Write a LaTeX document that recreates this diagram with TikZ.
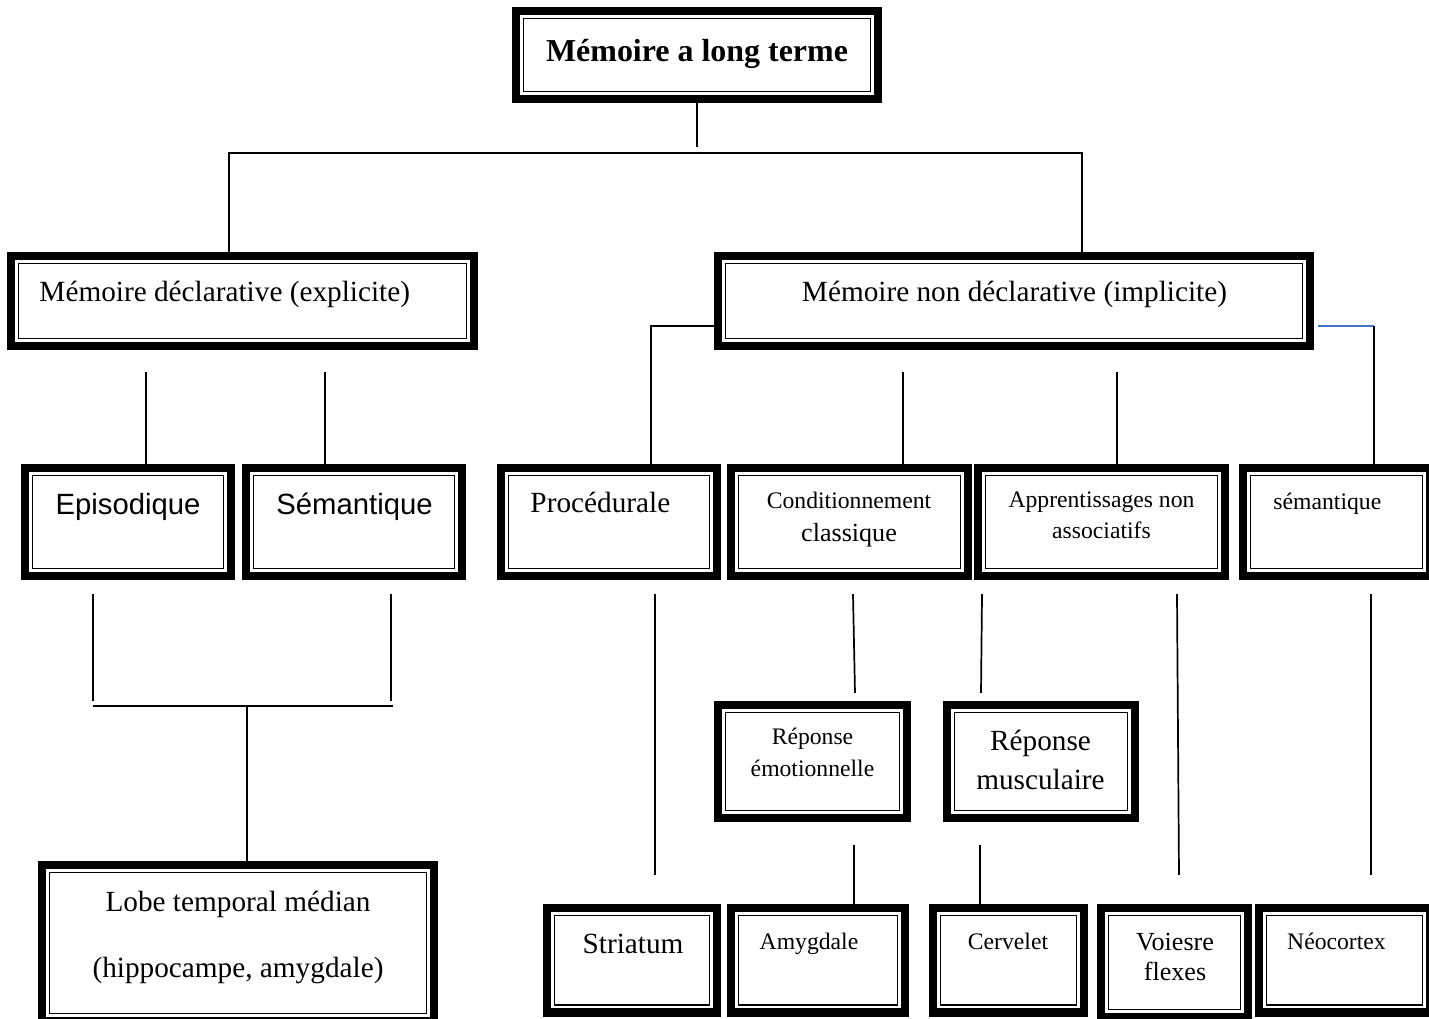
\documentclass[tikz,border=0pt]{standalone}
\usepackage{fontspec}
\setmainfont{Liberation Serif}
\newfontfamily\arial{Liberation Sans}
\usetikzlibrary{calc}
\definecolor{bleu}{RGB}{68,114,196}

\begin{document}
\begin{tikzpicture}[x=0.41pt, y=-0.41pt,
    cadre/.style 2 args={draw, line width=3.3pt, inner sep=0pt,
        minimum width=#1*0.41pt, minimum height=#2*0.41pt,
        path picture={\draw[line width=0.7pt]
            ([shift={(3.1pt,-3.1pt)}]path picture bounding box.north west) rectangle
            ([shift={(-3.1pt,3.1pt)}]path picture bounding box.south east);}},
    lien/.style={line width=0.7pt},
    lienbleu/.style={line width=0.7pt, draw=bleu},
    txt/.style={inner sep=0pt, anchor=base, font=\fontsize{12}{14}\selectfont},
    petit/.style={txt, font=\fontsize{9.7}{13}\selectfont}]

    % Fix the page to the size of the original figure
    \useasboundingbox (0,0) rectangle (1429,1019);

    % Top of the tree
    \node[cadre={362}{88}] (mlt) at (697,55) {};

    % The two main branches
    \node[cadre={463}{90}] (decl) at (242.5,301) {};
    \node[cadre={592}{90}] (nondecl) at (1014,301) {};

    % Third row
    \node[cadre={206}{108}] (epis) at (128,522) {};
    \node[cadre={216}{108}] (sema) at (354,522) {};
    \node[cadre={216}{108}] (proc) at (609,522) {};
    \node[cadre={237}{108}] (cond) at (849.5,522) {};
    \node[cadre={247}{108}] (appr) at (1101.5,522) {};
    \node[cadre={187}{108}] (semb) at (1336.5,522) {};

    % The two responses of classical conditioning
    \node[cadre={189}{113}] (emo) at (812.5,761.5) {};
    \node[cadre={188}{113}] (musc) at (1041,761.5) {};

    % Brain structures at the bottom
    \node[cadre={392}{156}] (lobe) at (238,943) {};
    \node[cadre={170}{104.5}] (stri) at (632,960.25) {};
    \node[cadre={174}{104.5}] (amyg) at (818,960.25) {};
    \node[cadre={151}{104.5}] (cerv) at (1008.5,960.25) {};
    \node[cadre={147}{109}] (voies) at (1174.5,962.5) {};
    \node[cadre={171}{104.5}] (neo) at (1344.5,960.25) {};

    % Texts of the boxes
    \node[txt, font=\bfseries\fontsize{13.1}{15}\selectfont] (tmlt) at (697,62) {Mémoire a long terme};
    \node[txt, anchor=base west] (tdecl) at (39,302) {Mémoire déclarative (explicite)};
    \node[txt] (tnondecl) at (1014.5,302) {Mémoire non déclarative (implicite)};
    \node[txt, font=\arial\fontsize{12}{14}\selectfont] (tepis) at (128,515) {Episodique};
    \node[txt, font=\arial\fontsize{12}{14}\selectfont] (tsema) at (354.5,515) {Sémantique};
    \node[txt, anchor=base west] (tproc) at (530,513) {Procédurale};
    \node[petit, font=\fontsize{9.7}{13.5}\selectfont] (tcond) at (849,509)
        {\begin{tabular}[t]{@{}c@{}}Conditionnement\\{\fontsize{10.7}{13.5}\selectfont classique}\end{tabular}};
    \node[petit, font=\fontsize{9.7}{12.7}\selectfont] (tappr) at (1101.5,508)
        {\begin{tabular}[t]{@{}c@{}}Apprentissages non\\associatifs\end{tabular}};
    \node[petit, anchor=base west] (tsemb) at (1273,510) {sémantique};
    \node[txt, font=\fontsize{12}{27}\selectfont] (tlobe) at (238,912)
        {\begin{tabular}[t]{@{}c@{}}Lobe temporal médian\\(hippocampe, amygdale)\end{tabular}};
    \node[petit, font=\fontsize{9.7}{13.1}\selectfont] (temo) at (812.5,745)
        {\begin{tabular}[t]{@{}c@{}}Réponse\\émotionnelle\end{tabular}};
    \node[txt, font=\fontsize{12}{15.6}\selectfont] (tmusc) at (1040.5,751)
        {\begin{tabular}[t]{@{}c@{}}Réponse\\musculaire\end{tabular}};
    \node[txt] (tstri) at (633,954) {Striatum};
    \node[petit] (tamyg) at (809,950) {Amygdale};
    \node[petit] (tcerv) at (1008,950) {Cervelet};
    \node[txt, font=\fontsize{10.7}{12.3}\selectfont] (tvoies) at (1175,951)
        {\begin{tabular}[t]{@{}c@{}}Voiesre\\flexes\end{tabular}};
    \node[petit] (tneo) at (1336.5,950) {Néocortex};

    % Links from the top box to the two branches
    \draw[lien] (mlt.south) -- ++(0,44);
    \draw[lien] ($(decl.north)+(-13.5,0)$) -- ++(0,-99) -| ($(nondecl.north)+(68,0)$);

    % Links under the declarative memory
    \draw[lien] ($(epis.north)+(18,-92)$) -- ($(epis.north)+(18,0)$);
    \draw[lien] ($(sema.north)+(-29,-92)$) -- ($(sema.north)+(-29,0)$);

    % Links under the non declarative memory
    \draw[lien] ($(nondecl.west)+(0,25)$) -- ++(-63,0) coordinate (cp) -- (cp |- proc.north);
    \draw[lien] ($(cond.north)+(53.5,-92)$) -- ($(cond.north)+(53.5,0)$);
    \draw[lien] ($(appr.north)+(15.5,-92)$) -- ($(appr.north)+(15.5,0)$);
    \draw[lienbleu] ($(nondecl.east)+(4,25)$) -- ++(56,0) coordinate (cs);
    \draw[lien] (cs) -- (cs |- semb.north);

    % Episodic and semantic memory join towards the temporal lobe
    \draw[lien] ($(epis.south)+(-35,14)$) -- ++(0,107);
    \draw[lien] ($(sema.south)+(37,14)$) -- ++(0,107);
    \draw[lien] ($(lobe.north)+(9,0)$) -- ++(0,-155) coordinate (jonc);
    \draw[lien] ($(jonc)+(-154,0)$) -- ($(jonc)+(146,0)$);

    % Links down to the brain structures
    \draw[lien] ($(proc.south)+(46,14)$) -- ($(stri.north)+(23,-29)$);
    \draw[lien] ($(cond.south)+(3.5,14)$) -- ($(emo.north)+(42.5,-8)$);
    \draw[lien] ($(emo.south)+(41.5,23)$) -- ($(amyg.north)+(36,0)$);
    \draw[lien] ($(cond.south east)+(10,14)$) -- ($(musc.north)+(-60,-8)$);
    \draw[lien] ($(musc.south)+(-61,23)$) -- ($(cerv.north)+(-28.5,0)$);
    \draw[lien] ($(appr.south)+(75.5,14)$) -- ($(voies.north)+(4.5,-29)$);
    \draw[lien] ($(semb.south)+(34.5,14)$) -- ($(neo.north)+(26.5,-29)$);

\end{tikzpicture}
\end{document}
